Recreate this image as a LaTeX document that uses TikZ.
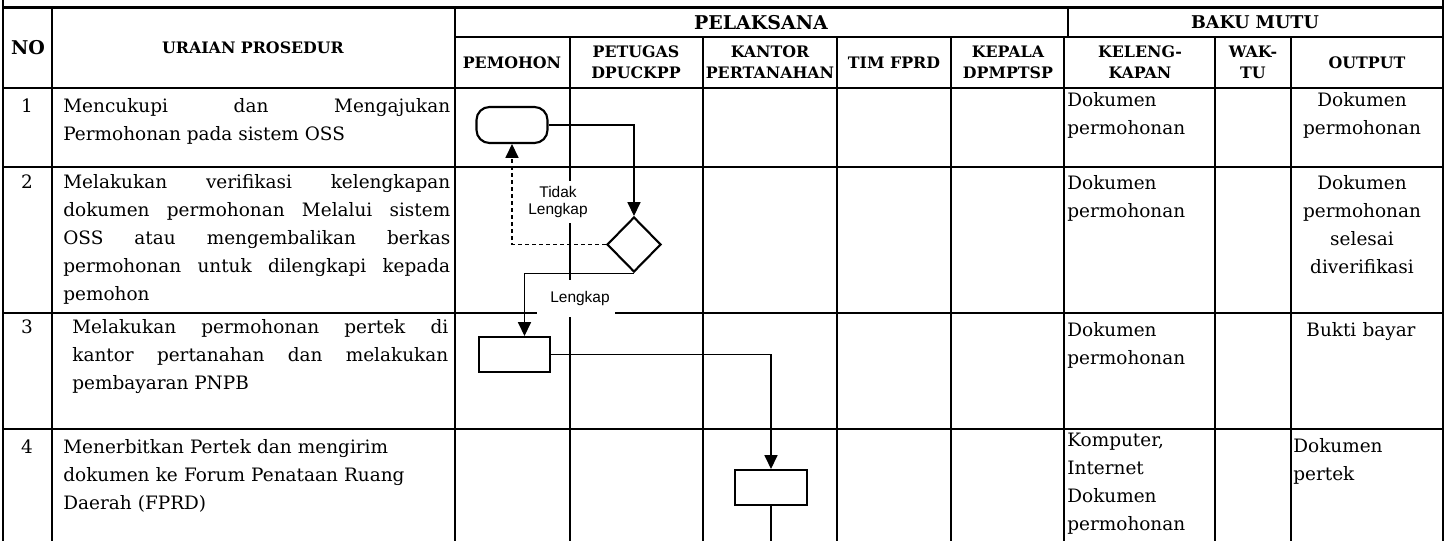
\documentclass[tikz,border=0pt]{standalone}
\usepackage{fontspec}
\setmainfont{DejaVu Serif}
\newfontfamily\lblfont{Liberation Sans}
\usepackage{tikz}
\usetikzlibrary{shapes.geometric, arrows.meta, positioning, calc}
\tolerance=10000
\hbadness=10000
\hyphenpenalty=10000

\begin{document}
\begin{tikzpicture}[
    x=0.02cm, y=-0.02cm,
    % Table styles
    grid/.style={line width=1.4pt},
    head/.style={font=\bfseries\fontsize{10}{11}\selectfont, align=center, inner sep=0pt},
    subhead/.style={font=\bfseries\fontsize{9}{12}\selectfont, align=center, inner sep=0pt},
    cell/.style={font=\fontsize{10.5}{16}\selectfont, inner sep=0pt, anchor=base west},
    uraian/.style={cell, text width=7.74cm, align=justify},
    kolom/.style={cell, text width=2.9cm, align=left},
    numcell/.style={font=\fontsize{10.5}{16}\selectfont, inner sep=0pt, anchor=base},
    outcell/.style={font=\fontsize{10.5}{16}\selectfont, inner sep=0pt, anchor=base, text width=3cm, align=center},
    % Flowchart styles
    terminal/.style={rectangle, rounded corners=0.26cm, draw=black, line width=1.2pt, fill=white, minimum width=1.42cm, minimum height=0.72cm},
    process/.style={rectangle, draw=black, line width=1.2pt, fill=white, minimum width=1.43cm, minimum height=0.7cm},
    decision/.style={diamond, draw=black, line width=1.2pt, fill=white, inner sep=0pt, minimum width=1.08cm, minimum height=1.1cm},
    flowlabel/.style={font=\lblfont\fontsize{8.8}{9.8}\selectfont, align=center, fill=white, inner sep=0pt},
    arrow/.style={-{Triangle[length=7.8pt, width=7.4pt]}, line width=0.6pt},
    link/.style={line width=0.6pt}
]

\useasboundingbox (0,0) rectangle (1448,541);

% Table frame
\draw[grid] (3,0) -- (3,541);
\draw[grid] (1443,0) -- (1443,541);
\draw[grid] (3,7.5) -- (1443,7.5);
\draw[grid] (455,37) -- (1443,37);
\draw[grid] (3,88) -- (1443,88);
\draw[grid] (3,167) -- (1443,167);
\draw[grid] (3,313) -- (1443,313);
\draw[grid] (3,429) -- (1443,429);

% Column lines
\draw[grid] (52,7.5) -- (52,541);
\draw[grid] (455,7.5) -- (455,541);
\draw[grid] (570,37) -- (570,541);
\draw[grid] (703,37) -- (703,541);
\draw[grid] (837,37) -- (837,541);
\draw[grid] (951,37) -- (951,541);
\draw[grid] (1068,7.5) -- (1068,37);
\draw[grid] (1064,37) -- (1064,541);
\draw[grid] (1215,37) -- (1215,541);
\draw[grid] (1291,37) -- (1291,541);

% Header
\node[head, font=\bfseries\fontsize{10.8}{11}\selectfont] (hno) at (28,48) {NO};
\node[head, font=\bfseries\fontsize{9}{11}\selectfont] (huraian) at (253,48) {URAIAN PROSEDUR};
\node[head, font=\bfseries\fontsize{10.8}{11}\selectfont] (hpelaksana) at (761,22.5) {PELAKSANA};
\node[head] (hbaku) at (1255,22.5) {BAKU MUTU};
\node[subhead] (hpemohon) at (512,63) {PEMOHON};
\node[subhead] (hpetugas) at (636,62) {PETUGAS\\DPUCKPP};
\node[subhead] (hkantor) at (770,62) {KANTOR\\PERTANAHAN};
\node[subhead] (htim) at (894,63) {TIM FPRD};
\node[subhead] (hkepala) at (1008,62) {KEPALA\\DPMPTSP};
\node[subhead] (hkeleng) at (1140,62) {KELENG-\\KAPAN};
\node[subhead] (hwaktu) at (1253,62) {WAK-\\TU};
\node[subhead] (houtput) at (1367,63) {OUTPUT};

% Row numbers
\node[numcell] (no1) at (27,112) {1};
\node[numcell] (no2) at (27,188) {2};
\node[numcell] (no3) at (27,333) {3};
\node[numcell] (no4) at (27,453) {4};

% Uraian prosedur
\node[uraian] (ur1) at (63,112) {Mencukupi dan Mengajukan\linebreak Permohonan pada sistem OSS};
\node[uraian] (ur2) at (63,188) {Melakukan verifikasi kelengkapan\linebreak dokumen permohonan Melalui sistem\linebreak OSS atau mengembalikan berkas\linebreak permohonan untuk dilengkapi kepada\linebreak pemohon};
\node[uraian, text width=7.52cm] (ur3) at (72,333) {Melakukan permohonan pertek di\linebreak kantor pertanahan dan melakukan\linebreak pembayaran PNPB};
\node[uraian, align=left] (ur4) at (63,453) {Menerbitkan Pertek dan mengirim\\dokumen ke Forum Penataan Ruang\\Daerah (FPRD)};

% Kelengkapan
\node[kolom] (kl1) at (1067,106) {Dokumen\\permohonan};
\node[kolom] (kl2) at (1067,189) {Dokumen\\permohonan};
\node[kolom] (kl3) at (1067,336) {Dokumen\\permohonan};
\node[kolom] (kl4) at (1067,446) {Komputer,\\Internet\\Dokumen\\permohonan};

% Output
\node[outcell] (out1) at (1362,106) {Dokumen\\permohonan};
\node[outcell] (out2) at (1362,189) {Dokumen\\permohonan\\selesai\\diverifikasi};
\node[outcell] (out3) at (1361,336) {Bukti bayar};
\node[kolom] (out4) at (1293,452) {Dokumen\\pertek};

% Branch labels
\node[flowlabel, minimum width=1.25cm, minimum height=0.84cm] (tidak) at (558,202) {Tidak\\Lengkap};
\node[flowlabel, minimum width=1.56cm, minimum height=0.74cm] (lengkap) at (576,298.5) {\hspace{0.16cm}Lengkap};

% Flowchart shapes
\node[terminal] (start) at (512,125) {};
\node[decision] (verif) at (634,244.5) {};
\node[process] (mohon) at (514.5,354.5) {};
\node[process] (pertek) at (771,487.5) {};
\coordinate (lanjut) at (771,541);

% Connectors
\draw[arrow] (start.east) -| (verif.north);
\draw[arrow, dash pattern=on 2.3pt off 1.7pt] (verif.west) -| (start.south);
\draw[arrow] (verif.south) -| ($(mohon.north)+(10,0)$);
\draw[arrow] (mohon.east) -| (pertek.north);
\draw[link] (pertek.south) -- (lanjut);

\end{tikzpicture}
\end{document}
